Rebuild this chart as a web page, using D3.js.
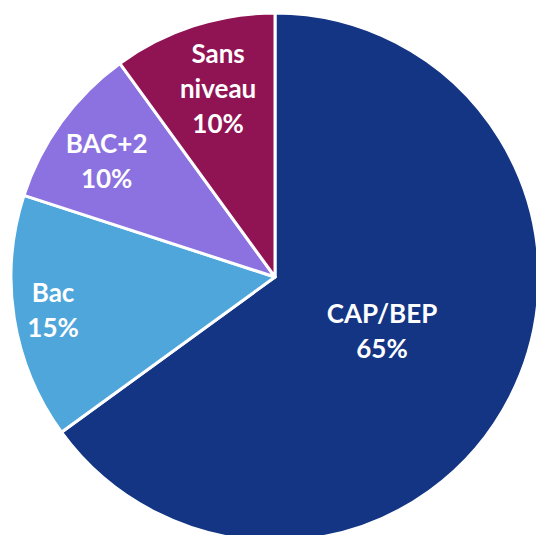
<!DOCTYPE html>
<html>
<head>
<meta charset="utf-8">
<script src="https://cdn.jsdelivr.net/npm/d3@7"></script>
<style>
  html, body { margin: 0; padding: 0; background: #fff; overflow: hidden; }
  .label { fill: #fff; font-family: Lato, "Open Sans", sans-serif; font-weight: bold; font-size: 26px; }
</style>
</head>
<body>
<div id="chart"></div>
<script>
const categories = ["CAP/BEP", "Bac", "BAC+2", "Sans niveau"];
const values = [65, 15, 10, 10];
const colors = ["#133584", "#4fa6db", "#8b72e0", "#901354"];
// label lines per slice (category split for wrapping)
const labelLines = [["CAP/BEP"], ["Bac"], ["BAC+2"], ["Sans", "niveau"]];

const width = 536, height = 535;
const cx = 275, cy = 277, radius = 264;

const svg = d3.select("#chart").append("svg")
  .attr("width", width)
  .attr("height", height);

const data = categories.map((c, i) => ({ label: c, value: values[i], color: colors[i], lines: labelLines[i] }));

const pie = d3.pie().sort(null).value(d => d.value);
const arc = d3.arc().innerRadius(0).outerRadius(radius);

const g = svg.append("g").attr("transform", "translate(" + cx + "," + cy + ")");

const arcs = pie(data);

g.selectAll("path")
  .data(arcs)
  .enter().append("path")
  .attr("d", arc)
  .attr("fill", d => d.data.color)
  .attr("stroke", "#fff")
  .attr("stroke-width", 3)
  .attr("stroke-linejoin", "round");

// label placement: fraction of radius and small angle nudge (degrees)
const labelRadius = [0.455, 0.85, 0.773, 0.746];
const labelNudge = [0, 0.5, -1.6, 1.2];
const lineH = 35;

g.selectAll("text.label")
  .data(arcs)
  .enter().append("text")
  .attr("class", "label")
  .attr("text-anchor", "middle")
  .each(function (d, i) {
    const a = (d.startAngle + d.endAngle) / 2 + labelNudge[i] * Math.PI / 180;
    const r = radius * labelRadius[i];
    const x = Math.sin(a) * r, y = -Math.cos(a) * r;
    const lines = d.data.lines.concat([d.data.value + "%"]);
    const t = d3.select(this);
    lines.forEach((l, j) => {
      t.append("tspan")
        .attr("x", x)
        .attr("y", y + (j - (lines.length - 1) / 2) * lineH)
        .attr("dy", "0.35em")
        .text(l);
    });
  });
</script>
</body>
</html>
